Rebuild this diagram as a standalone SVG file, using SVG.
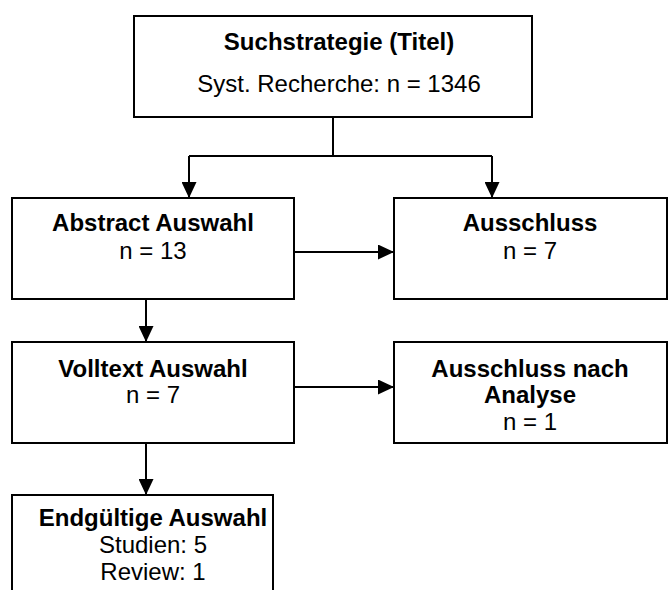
<svg xmlns="http://www.w3.org/2000/svg" width="669" height="590" viewBox="0 0 669 590">
<defs>
<style>
.box{fill:#fff;stroke:#000;stroke-width:2}
.t{font-family:"Liberation Sans",Arial,sans-serif;font-size:24px;fill:#000;text-anchor:middle}
.b{font-weight:bold}
.c{fill:none;stroke:#000;stroke-width:2}
</style>
<marker id="ah" viewBox="0 0 16 15" refX="16" refY="7.5" markerWidth="16" markerHeight="15" markerUnits="userSpaceOnUse" orient="auto">
<path d="M0,0 L16,7.5 L0,15 Z" fill="#000"/>
</marker>
</defs>
<rect width="669" height="590" fill="#fff"/>
<g id="connectors">
<path class="c" d="M333,117 V156 M189,156 H492"/>
<path class="c" d="M189,156 V198" marker-end="url(#ah)"/>
<path class="c" d="M492,156 V198" marker-end="url(#ah)"/>
<path class="c" d="M294,252 H394" marker-end="url(#ah)"/>
<path class="c" d="M146,299 V342" marker-end="url(#ah)"/>
<path class="c" d="M294,387 H394" marker-end="url(#ah)"/>
<path class="c" d="M146,443 V495" marker-end="url(#ah)"/>
</g>
<g id="suchstrategie">
<rect class="box" x="134" y="16" width="398" height="101"/>
<text class="t b" x="339" y="50">Suchstrategie (Titel)</text>
<text class="t" x="339" y="92">Syst. Recherche: n = 1346</text>
</g>
<g id="abstract">
<rect class="box" x="12" y="198" width="282" height="101"/>
<text class="t b" x="153" y="231">Abstract Auswahl</text>
<text class="t" x="153" y="259">n = 13</text>
</g>
<g id="ausschluss">
<rect class="box" x="394" y="198" width="273" height="101"/>
<text class="t b" x="530" y="231">Ausschluss</text>
<text class="t" x="530" y="259">n = 7</text>
</g>
<g id="volltext">
<rect class="box" x="12" y="342" width="282" height="101"/>
<text class="t b" x="153" y="377">Volltext Auswahl</text>
<text class="t" x="153" y="403">n = 7</text>
</g>
<g id="ausschluss-analyse">
<rect class="box" x="394" y="342" width="273" height="101"/>
<text class="t b" x="530" y="377">Ausschluss nach</text>
<text class="t b" x="530" y="403">Analyse</text>
<text class="t" x="530" y="430">n = 1</text>
</g>
<g id="endgueltig">
<path class="box" d="M12,600 V495 H273 V600"/>
<text class="t b" x="153" y="526">Endgültige Auswahl</text>
<text class="t" x="153" y="553">Studien: 5</text>
<text class="t" x="153" y="580">Review: 1</text>
</g>
</svg>
